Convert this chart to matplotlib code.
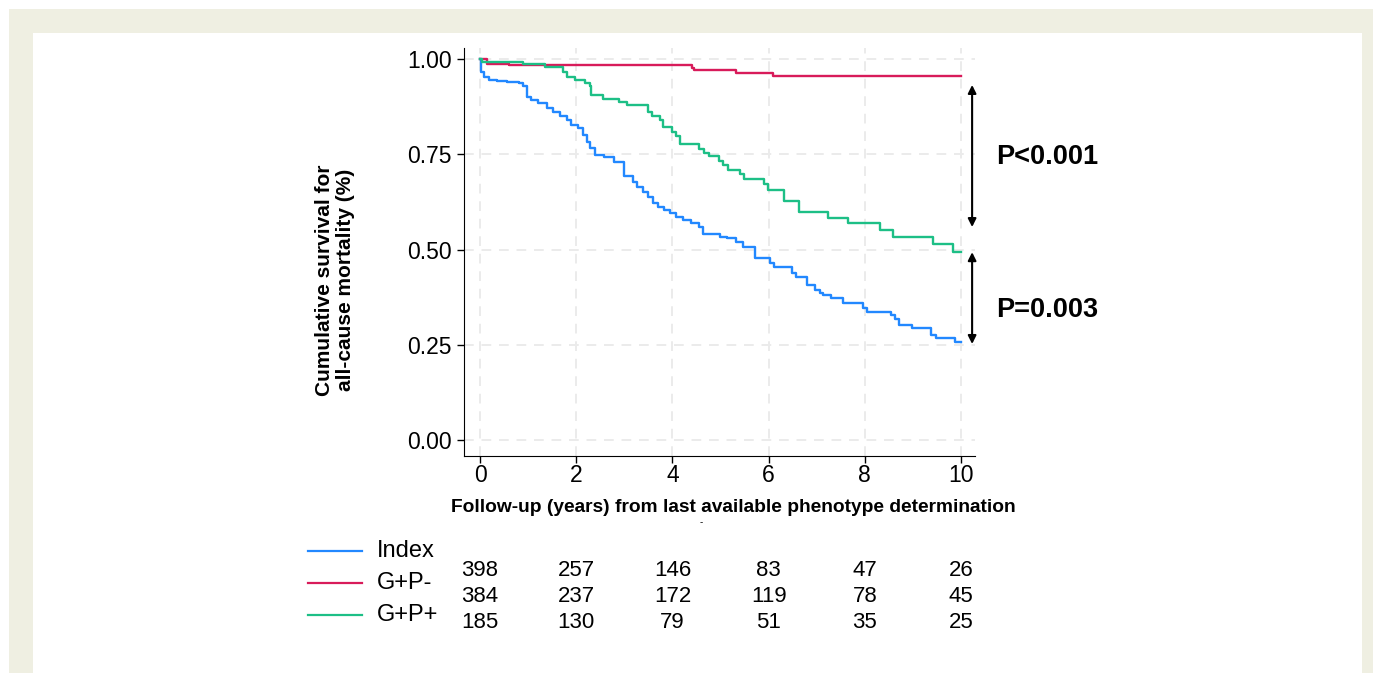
import matplotlib.pyplot as plt
from matplotlib.lines import Line2D
from matplotlib.patches import Rectangle
from matplotlib.transforms import blended_transform_factory

plt.rcParams['font.family'] = ['Liberation Sans', 'DejaVu Sans']

# Kaplan-Meier steps (time in years, survival)
index_t = [0, 0.03, 0.08, 0.18, 0.35, 0.56, 0.80, 0.90, 0.97, 1.07, 1.21, 1.40, 1.52,
           1.66, 1.80, 1.90, 2.04, 2.15, 2.22, 2.29, 2.40, 2.58, 2.79, 3.00, 3.17, 3.26,
           3.38, 3.50, 3.59, 3.69, 3.83, 3.94, 4.07, 4.21, 4.38, 4.55, 4.64, 4.99, 5.13,
           5.33, 5.47, 5.71, 6.02, 6.12, 6.48, 6.56, 6.80, 6.97, 7.07, 7.14, 7.30, 7.55,
           7.97, 8.05, 8.54, 8.63, 8.71, 8.97, 9.37, 9.47, 9.87, 10.0]
index_s = [1.0, 0.967, 0.954, 0.946, 0.943, 0.940, 0.936, 0.928, 0.901, 0.892, 0.884, 0.871, 0.862,
           0.850, 0.840, 0.827, 0.818, 0.801, 0.783, 0.766, 0.748, 0.742, 0.730, 0.693, 0.678, 0.665,
           0.652, 0.639, 0.621, 0.612, 0.604, 0.595, 0.586, 0.577, 0.569, 0.560, 0.542, 0.534, 0.529,
           0.520, 0.507, 0.477, 0.464, 0.455, 0.439, 0.429, 0.407, 0.394, 0.385, 0.381, 0.372, 0.359,
           0.346, 0.337, 0.328, 0.317, 0.302, 0.293, 0.276, 0.267, 0.256, 0.256]

gpn_t = [0, 0.15, 0.6, 4.40, 4.45, 5.32, 6.09, 10.0]
gpn_s = [1.0, 0.988, 0.984, 0.976, 0.971, 0.964, 0.955, 0.955]

gpp_t = [0, 0.05, 0.90, 1.35, 1.73, 1.80, 1.97, 2.18, 2.29, 2.31, 2.56, 2.89, 3.05, 3.49,
         3.57, 3.74, 3.81, 3.99, 4.08, 4.15, 4.56, 4.66, 4.75, 4.97, 5.06, 5.15, 5.40,
         5.48, 5.90, 5.98, 6.31, 6.64, 7.23, 7.65, 8.32, 8.58, 9.42, 9.83, 10.0]
gpp_s = [1.0, 0.993, 0.986, 0.980, 0.967, 0.954, 0.945, 0.938, 0.928, 0.906, 0.895, 0.888, 0.879, 0.862,
         0.850, 0.840, 0.822, 0.809, 0.798, 0.777, 0.763, 0.754, 0.745, 0.733, 0.722, 0.709, 0.697,
         0.684, 0.671, 0.656, 0.628, 0.599, 0.584, 0.569, 0.551, 0.534, 0.514, 0.494, 0.494]

groups = ['Index', 'G+P-', 'G+P+']
colors = ['#2288ff', '#d81b5a', '#1dbf86']
risk_times = [0, 2, 4, 6, 8, 10]
at_risk = [[398, 257, 146, 83, 47, 26],
           [384, 237, 172, 119, 78, 45],
           [185, 130, 79, 51, 35, 25]]
p_texts = ['P<0.001', 'P=0.003']
p_y = [0.743, 0.341]
arrow_spans = [(0.932, 0.559), (0.493, 0.252)]

W, H = 1373, 673
fig = plt.figure(figsize=(W / 100, H / 100), dpi=100, facecolor='white')

# beige frame + white panel
fig.add_artist(Rectangle((9 / W, 0), 1, 1 - 9 / H, transform=fig.transFigure,
                         facecolor='#efefe2', edgecolor='none', zorder=-10))
fig.add_artist(Rectangle((33 / W, 0), (1362 - 33) / W, 1 - 33 / H, transform=fig.transFigure,
                         facecolor='white', edgecolor='none', zorder=-9))

ax = fig.add_axes([464 / W, 1 - 456 / H, (975 - 464) / W, (456 - 48) / H])
ax.patch.set_alpha(0)

for t, s, c in zip([index_t, gpn_t, gpp_t], [index_s, gpn_s, gpp_s], colors):
    ax.plot(t, s, drawstyle='steps-post', color=c, linewidth=1.7, zorder=3)

ax.set_xlim(-0.333, 10.29)
ax.set_ylim(-0.042, 1.029)
ax.set_xticks(risk_times)
ax.set_yticks([0, 0.25, 0.5, 0.75, 1.0])
ax.set_yticklabels(['0.00', '0.25', '0.50', '0.75', '1.00'])
ax.tick_params(labelsize=16.5, length=5, width=1, direction='out')
ax.tick_params(axis='x', pad=1)
ax.tick_params(axis='y', pad=4)
ax.grid(True, linestyle=(0, (5, 4)), color='#ebebeb', linewidth=1.4, zorder=0)
ax.spines['top'].set_visible(False)
ax.spines['right'].set_visible(False)

fig.text(733 / W, 1 - 508 / H,
         'Follow-up (years) from last available phenotype determination',
         ha='center', va='center', fontsize=13.8, fontweight='bold')
fig.text(335 / W, 1 - 280 / H, 'Cumulative survival for\nall-cause mortality (%)',
         rotation=90, ha='center', va='center', fontsize=15, fontweight='bold',
         linespacing=1.1)
fig.text(701 / W, 1 - 522 / H, '-', ha='center', va='center', fontsize=7)

# p-value arrows
for (y0, y1), txt, yy in zip(arrow_spans, p_texts, p_y):
    ax.annotate('', xy=(10.23, y1), xytext=(10.23, y0), annotation_clip=False,
                arrowprops=dict(arrowstyle='<|-|>', color='black', lw=1.5,
                                mutation_scale=12, shrinkA=0, shrinkB=0))
    ax.text(10.72, yy, txt, fontsize=19.5, fontweight='bold', ha='left', va='center',
            clip_on=False)

# legend + numbers at risk
leg_y = [551, 583, 615]
for yy, c, g in zip(leg_y, colors, groups):
    fig.add_artist(Line2D([308 / W, 362 / W], [1 - yy / H, 1 - yy / H],
                          transform=fig.transFigure, color=c, linewidth=1.6))
    fig.text(377 / W, 1 - yy / H, g, fontsize=17, ha='left', va='center')

tr = blended_transform_factory(ax.transData, fig.transFigure)
row_y = [570, 596, 622]
for yy, row in zip(row_y, at_risk):
    for t, n in zip(risk_times, row):
        ax.text(t, 1 - yy / H, str(n), transform=tr, fontsize=16,
                ha='center', va='center', clip_on=False)

plt.savefig('out.png', dpi=100, facecolor=fig.get_facecolor())
